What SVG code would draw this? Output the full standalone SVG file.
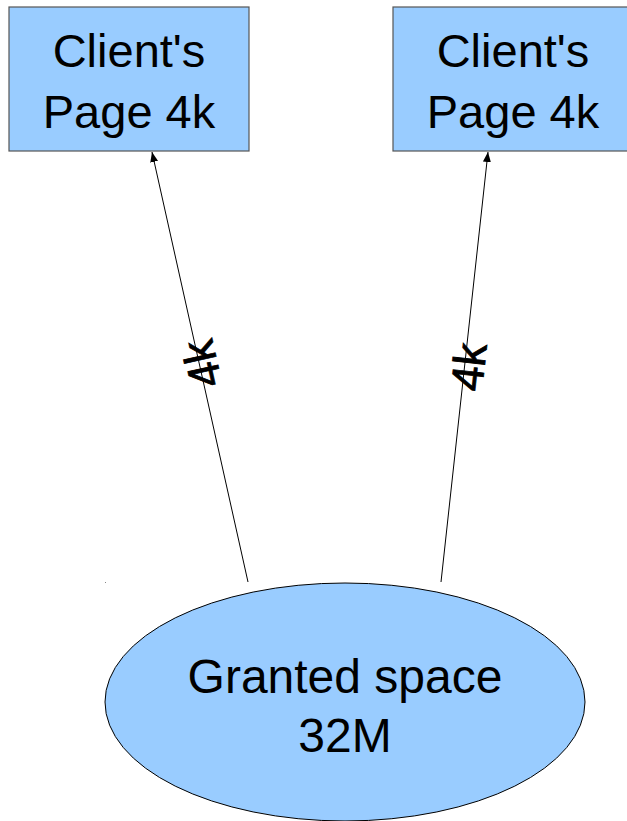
<svg xmlns="http://www.w3.org/2000/svg" width="627" height="821" viewBox="0 0 627 821">
  <style>
    .box { fill: #99ccff; stroke: #555555; stroke-width: 1.2; }
    .blob { fill: #99ccff; stroke: #000000; stroke-width: 1; }
    .big { font-family: "Liberation Sans", Arial, sans-serif; font-size: 47px; fill: #000000; text-anchor: middle; }
    .big2 { font-size: 48px; }
    .edge { stroke: #000000; stroke-width: 1; fill: none; marker-end: url(#tip); }
    .lbl { font-family: "Liberation Sans", Arial, sans-serif; font-size: 45px; fill: #000000; stroke: #000000; stroke-width: 0.8; text-anchor: middle; dominant-baseline: central; }
  </style>
  <defs>
    <marker id="tip" viewBox="0 0 10 10" refX="10" refY="5" markerWidth="10" markerHeight="10" markerUnits="userSpaceOnUse" orient="auto">
      <path d="M0,1 L10,5 L0,9 Z" fill="#000000"/>
    </marker>
  </defs>
  <rect width="627" height="821" fill="#ffffff"/>

  <g id="client-page-left">
    <rect class="box" x="9" y="7" width="240" height="144"/>
    <text class="big" x="129" y="67">Client's</text>
    <text class="big" x="129" y="128">Page 4k</text>
  </g>

  <g id="client-page-right">
    <rect class="box" x="393" y="7" width="240" height="144"/>
    <text class="big" x="513" y="67">Client's</text>
    <text class="big" x="513" y="128">Page 4k</text>
  </g>

  <g id="granted-space">
    <ellipse class="blob" cx="345" cy="702" rx="240" ry="119"/>
    <text class="big big2" x="345" y="693">Granted space</text>
    <text class="big big2" x="345" y="752">32M</text>
  </g>

  <g id="connectors">
    <line class="edge" x1="248" y1="582" x2="152" y2="152"/>
    <line class="edge" x1="441" y1="582" x2="488" y2="152"/>
    <text class="lbl" transform="translate(202,364) rotate(-102.6)">4k</text>
    <text class="lbl" transform="translate(469,367) rotate(-83.8)">4k</text>
  </g>

  <rect x="105" y="582" width="1" height="1" fill="#888888"/>
</svg>
